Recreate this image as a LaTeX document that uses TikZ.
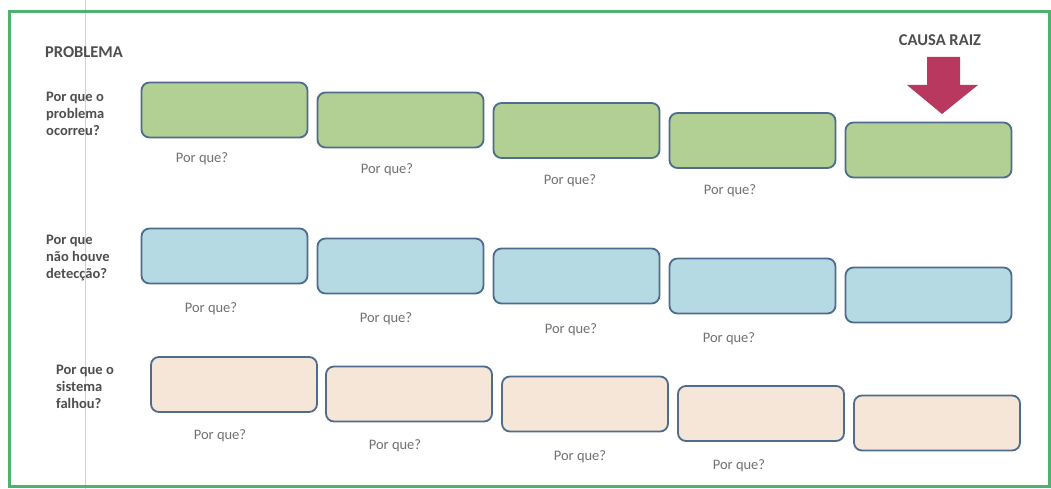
\documentclass[tikz,border=0pt]{standalone}
\usepackage{fontspec}
\setmainfont{Carlito}
\definecolor{frame}{RGB}{76,178,108}
\definecolor{boxline}{RGB}{78,108,142}
\definecolor{gfill}{RGB}{178,208,148}
\definecolor{bfill}{RGB}{182,218,228}
\definecolor{pfill}{RGB}{246,230,216}
\definecolor{txtdark}{RGB}{78,78,78}
\definecolor{txtlight}{RGB}{112,112,112}
\definecolor{arrowc}{RGB}{184,56,96}
\begin{document}
\begin{tikzpicture}[x=1pt,y=-1pt,
  whybox/.style={draw=boxline,line width=1.8pt,rounded corners=8pt,minimum width=166pt,minimum height=55pt,inner sep=0pt},
  gbox/.style={whybox,fill=gfill},
  bbox/.style={whybox,fill=bfill},
  pbox/.style={whybox,fill=pfill},
  why/.style={text=txtlight,font=\fontsize{14.5}{16}\selectfont},
  rowlabel/.style={text=txtdark,font=\bfseries\fontsize{14.5}{16.8}\selectfont,align=left,anchor=north west,inner sep=0pt},
  title/.style={text=txtdark,font=\bfseries\fontsize{16.5}{18}\selectfont,inner sep=0pt}]
\useasboundingbox (0,0) rectangle (1051,489);
\fill[white] (0,0) rectangle (1051,489);
% scanner line
\draw[black!18,line width=0.8pt] (85,0) -- (85,489);
% frame
\draw[frame,line width=3pt] (9,12) rectangle (1049,486);

\node[title] (prob) at (84,52) {PROBLEMA};
\node[title] (causa) at (940,40) {CAUSA RAIZ};

\node[rowlabel] (l1) at (46,92) {Por que o\\problema\\ocorreu?};
\node[rowlabel] (l2) at (46,235) {Por que\\não houve\\detecção?};
\node[rowlabel] (l3) at (56,365) {Por que o\\sistema\\falhou?};

% row 1
\node[gbox] (g1) at (224.5,110) {};
\node[gbox] (g2) at (400.5,120) {};
\node[gbox] (g3) at (576.5,130.5) {};
\node[gbox] (g4) at (752.5,140.5) {};
\node[gbox] (g5) at (928.5,150) {};
\node[why] (wg1) at (202,159) {Por que?};
\node[why] (wg2) at (387,170) {Por que?};
\node[why] (wg3) at (570,181) {Por que?};
\node[why] (wg4) at (730,191) {Por que?};

% row 2
\node[bbox] (b1) at (224.5,256) {};
\node[bbox] (b2) at (400.5,266) {};
\node[bbox] (b3) at (576.5,276) {};
\node[bbox] (b4) at (752.5,286) {};
\node[bbox] (b5) at (928.5,295) {};
\node[why] (wb1) at (211,309) {Por que?};
\node[why] (wb2) at (386,319) {Por que?};
\node[why] (wb3) at (571,330) {Por que?};
\node[why] (wb4) at (729,339) {Por que?};

% row 3
\node[pbox] (p1) at (234,384.5) {};
\node[pbox] (p2) at (409,394) {};
\node[pbox] (p3) at (585,404) {};
\node[pbox] (p4) at (761,413.5) {};
\node[pbox] (p5) at (937,423) {};
\node[why] (wp1) at (220,436) {Por que?};
\node[why] (wp2) at (395,446) {Por que?};
\node[why] (wp3) at (580,457) {Por que?};
\node[why] (wp4) at (739,466) {Por que?};

% root cause arrow
\fill[arrowc] (927,57) -- (960,57) -- (960,85) -- (978,85) -- (942,114) -- (907,85) -- (927,85) -- cycle;
\end{tikzpicture}
\end{document}
